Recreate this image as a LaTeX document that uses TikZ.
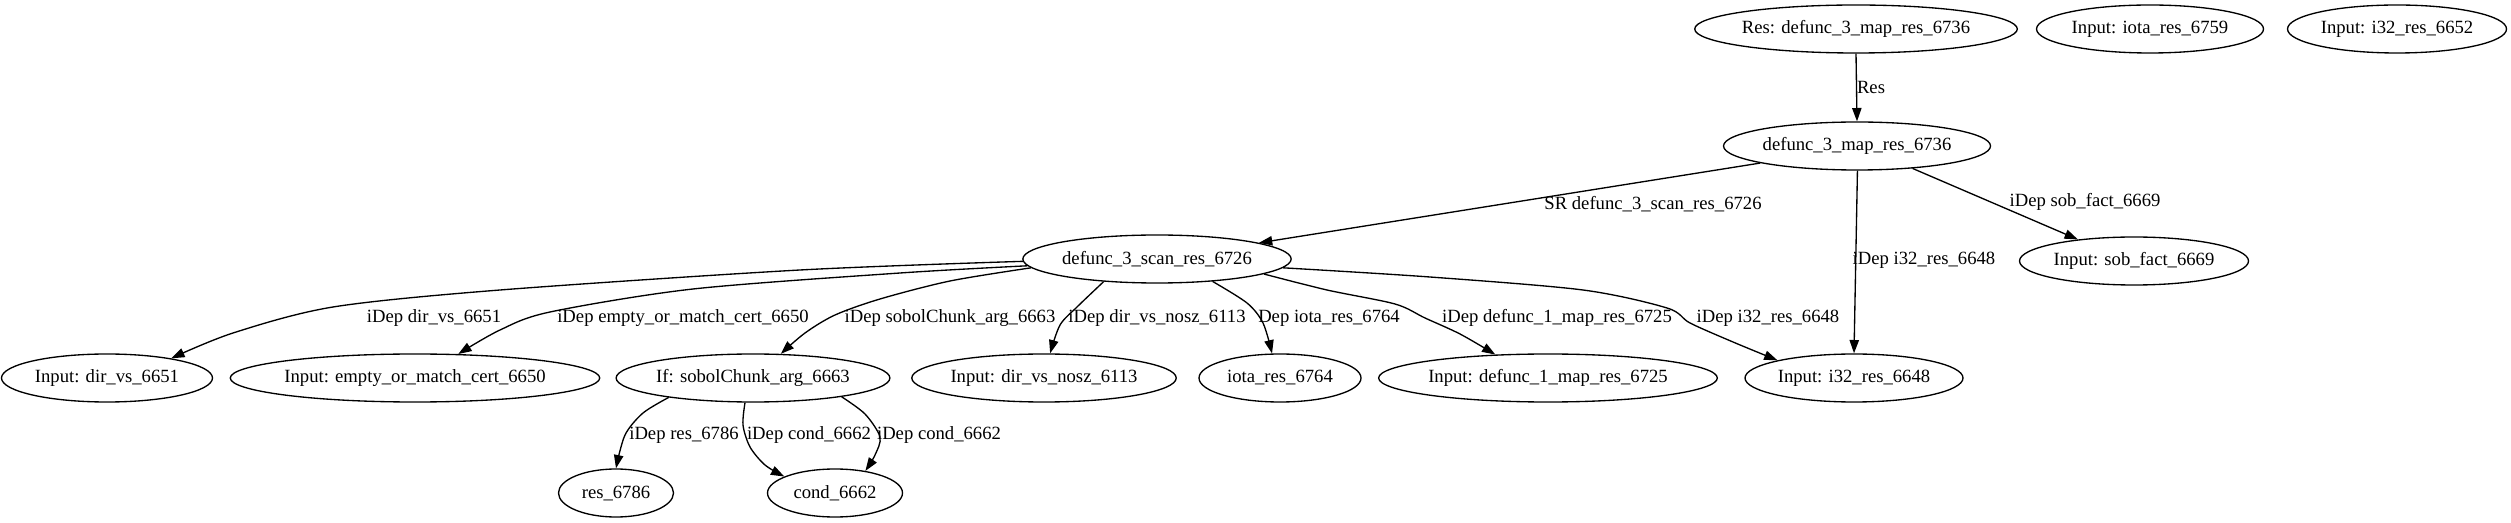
\documentclass[tikz,border=0pt]{standalone}
\usepackage{fontspec}
\setmainfont{Liberation Serif}
\usetikzlibrary{shapes.geometric,arrows.meta}
\begin{document}
\begin{tikzpicture}[x=0.75pt,y=-0.75pt,
  nd/.style={draw, ellipse, line width=1pt, inner sep=0pt, minimum height=36pt, minimum width={#1*0.75pt}, font=\fontsize{14pt}{16pt}\selectfont},
  lb/.style={inner sep=0pt, font=\fontsize{14pt}{16pt}\selectfont},
  ed/.style={draw, line width=1pt, -{Triangle[length=10pt,width=7pt]}}
]
\useasboundingbox (0,0) rectangle (2511,523);
% nodes
\node[nd=315] (res) at (1856,29) {Res: defunc\_3\_map\_res\_6736};
\node[nd=227] (iotaa) at (2150,29) {Input: iota\_res\_6759};
\node[nd=219] (i32a) at (2397,29) {Input: i32\_res\_6652};
\node[nd=267] (map) at (1857,146) {defunc\_3\_map\_res\_6736};
\node[nd=266] (scan) at (1157,259) {defunc\_3\_scan\_res\_6726};
\node[nd=229] (sob) at (2134,261) {Input: sob\_fact\_6669};
\node[nd=211] (dirvs) at (107,378) {Input: dir\_vs\_6651};
\node[nd=360] (empty) at (415,378) {Input: empty\_or\_match\_cert\_6650};
\node[nd=270] (ifn) at (753,378) {If: sobolChunk\_arg\_6663};
\node[nd=262] (nosz) at (1044,378) {Input: dir\_vs\_nosz\_6113};
\node[nd=162] (iota) at (1280,378) {iota\_res\_6764};
\node[nd=329] (def1) at (1548,378) {Input: defunc\_1\_map\_res\_6725};
\node[nd=218] (i32) at (1854,378) {Input: i32\_res\_6648};
\node[nd=115] (rr) at (616,493) {res\_6786};
\node[nd=135] (cond) at (835,493) {cond\_6662};
% edges
\draw[ed] (res.270) -- (map.90);
\draw[ed] (map.190) -- (scan.9);
\draw[ed] (map.271) -- (i32.90);
\draw[ed] (map.338) -- (sob.159);
\draw[ed] plot[smooth] coordinates {(scan.181) (800,270) (500,290) (333,307) (233,333) (dirvs.17)};
\draw[ed] plot[smooth] coordinates {(scan.183) (900,273) (693,289) (550,312) (500,330) (empty.29)};
\draw[ed] plot[smooth] coordinates {(scan.184) (950,281) (880,299) (835,315) (805,333) (ifn.41)};
\draw[ed] plot[smooth] coordinates {(scan.203) (1077,307) (1060,325) (nosz.76)};
\draw[ed] plot[smooth] coordinates {(scan.338) (1247,303) (1263,323) (iota.108)};
\draw[ed] plot[smooth] coordinates {(scan.352) (1327,290) (1395,304) (1425,318) (1460,334) (def1.156)};
\draw[ed] plot[smooth] coordinates {(scan.356) (1430,277) (1583,290) (1667,308) (1690,323) (1733,342) (i32.167)};
\draw[ed] plot[smooth] coordinates {(ifn.193) (643,413) (625,435) (rr.90)};
\draw[ed] plot[smooth] coordinates {(ifn.252) (743,425) (750,447) (765,465) (cond.162)};
\draw[ed] plot[smooth] coordinates {(ifn.348) (865,414) (880,437) (875,455) (cond.36)};
% labels
\node[lb] (l1) at (1871,87) {Res};
\node[lb] (l2) at (1653,204) {SR defunc\_3\_scan\_res\_6726};
\node[lb] (l3) at (1924,260) {iDep i32\_res\_6648};
\node[lb] (l4) at (2085,202) {iDep sob\_fact\_6669};
\node[lb] (l5) at (434,318) {iDep dir\_vs\_6651};
\node[lb] (l6) at (683,318) {iDep empty\_or\_match\_cert\_6650};
\node[lb] (l7) at (950,318) {iDep sobolChunk\_arg\_6663};
\node[lb] (l8) at (1157,318) {iDep dir\_vs\_nosz\_6113};
\node[lb] (l9) at (1329,318) {Dep iota\_res\_6764};
\node[lb] (l10) at (1557,318) {iDep defunc\_1\_map\_res\_6725};
\node[lb] (l11) at (1768,318) {iDep i32\_res\_6648};
\node[lb] (l12) at (684,435) {iDep res\_6786};
\node[lb] (l13) at (809,435) {iDep cond\_6662};
\node[lb] (l14) at (939,435) {iDep cond\_6662};
\end{tikzpicture}
\end{document}
